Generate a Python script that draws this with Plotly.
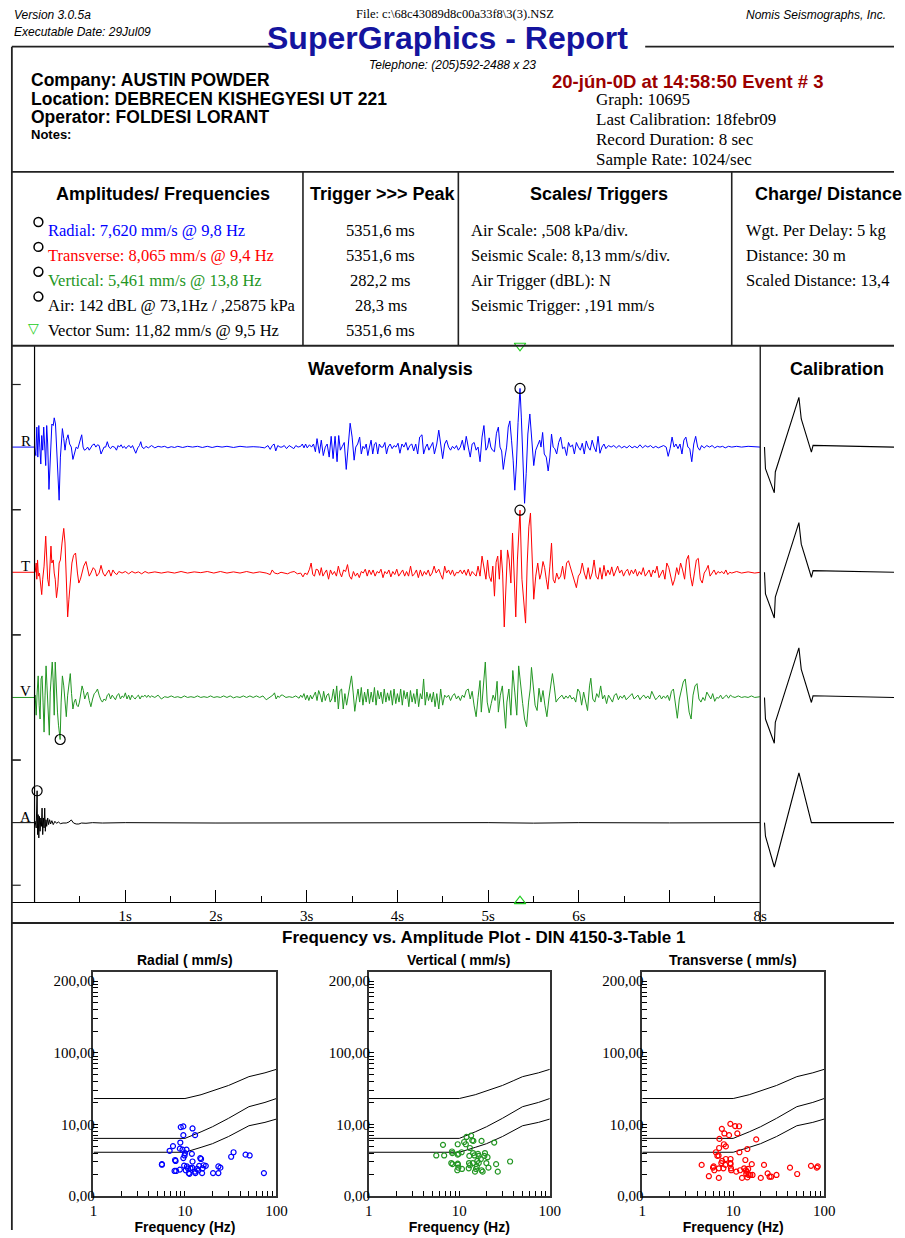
import plotly.graph_objects as go

W, H = 905, 1238
def X(px): return px / W
def Y(py): return 1 - py / H

SANS = "Liberation Sans, Arial, sans-serif"
SERIF = "Liberation Serif, Times New Roman, serif"
BLUE, RED, GREEN, DARKRED, NAVY = "#0000ff", "#ff0000", "#239623", "#9c0000", "#14149e"

# ------------------------------------------------------------------ data
SEISMIC_SCALE = 8.13      # mm/s per division
AIR_SCALE = 0.508         # kPa per division
RECORD_SEC = 8
PRETRIGGER_SEC = 0.25
PEAK_MS = [5351.6, 5351.6, 282.2, 28.3]          # R, T, V, A
PEAK_VAL = [7.620, 8.065, -5.461, 0.25875]        # mm/s, mm/s, mm/s, kPa
VECTOR_PEAK_MS = 5351.6
TIME_TICKS = [1, 2, 3, 4, 5, 6, 7, 8]
TIME_TICK_TEXT = ["1s", "2s", "3s", "4s", "5s", "6s", "", "8s"]

# waveform samples (time s, value) read from the record
R_WAVE = [(-0.25,0),(0.0,0),(0.014,-1.1),(0.025,2.6),(0.036,-1.3),(0.047,2.8),(0.058,0),(0.069,-2.2),(0.079,1.5),(0.090,-0.4),(0.101,2.6),(0.112,0),(0.123,-2.4),(0.134,2.8),(0.145,0.4),(0.159,-5.5),(0.177,0.9),(0.191,3.0),(0.206,2.8),(0.217,3.8),(0.231,3.0),(0.242,0),(0.257,-3.4),(0.271,-6.9),(0.285,-1.3),(0.296,1.3),(0.307,2.4),(0.322,1.1),(0.336,-0.4),(0.350,0.9),(0.369,1.6),(0.387,0.4),(0.405,0),(0.423,-1.6),(0.441,-0.6),(0.459,0),(0.477,-0.2),(0.502,0.9),(0.520,1.6),(0.535,0),(0.549,-0.4),(0.567,-0.3),(0.585,0),(0.603,-0.4),(0.621,0),(0.640,0.3),(0.658,0.4),(0.676,0),(0.694,0.3),(0.712,0.2),(0.733,-0.9),(0.748,-0.4),(0.766,0),(0.784,0),(0.802,0.7),(0.820,0),(0.838,-0.2),(0.856,0.1),(0.882,0),(0.903,-0.4),(0.921,0.2),(0.936,0),(0.954,0.3),(0.972,-0.1),(0.990,0.1),(1.008,-0.2),(1.026,0.1),(1.044,0.2),(1.062,-0.1),(1.080,0.2),(1.098,-0.4),(1.116,-0.8),(1.138,-0.1),(1.156,0.2),(1.171,0.7),(1.185,0),(1.207,-0.2),(1.228,0.1),(1.254,-0.1),(1.290,0.2),(1.326,-0.1),(1.362,0.1),(1.398,0),(1.434,0.1),(1.470,-0.1),(1.507,0.05),(1.543,-0.05),(1.579,0.1),(1.633,-0.05),(1.687,0.1),(1.742,0),(1.796,0.1),(1.850,-0.05),(1.904,0.1),(1.958,-0.05),(2.012,0.1),(2.067,0),(2.121,0.1),(2.193,-0.05),(2.265,0.1),(2.338,0),(2.410,0.05),(2.482,0),(2.536,-0.1),(2.573,0.2),(2.598,-0.3),(2.620,0.2),(2.641,0.4),(2.659,-0.5),(2.681,0.2),(2.706,0),(2.728,0),(2.753,0.2),(2.778,-0.2),(2.807,0.2),(2.833,-0.05),(2.858,-0.2),(2.880,0.2),(2.905,0),(2.934,0.1),(2.952,0.4),(2.970,-0.1),(2.988,0.4),(3.006,-0.1),(3.031,0.3),(3.053,0),(3.075,0.4),(3.096,-0.6),(3.114,1.1),(3.140,-0.8),(3.161,0.9),(3.183,-1.1),(3.205,0),(3.226,0.4),(3.248,-1.3),(3.270,1.4),(3.291,-1.5),(3.313,1.4),(3.335,-1.9),(3.353,1.5),(3.371,-0.4),(3.393,0.1),(3.414,0.6),(3.436,-2.9),(3.458,0.4),(3.479,3.1),(3.501,1.3),(3.523,-1.7),(3.541,0),(3.562,0.4),(3.584,1.3),(3.602,-0.9),(3.620,0.1),(3.638,-0.2),(3.656,0.4),(3.674,-1.1),(3.692,0),(3.710,0.9),(3.728,-0.9),(3.747,0.4),(3.765,0.6),(3.783,-0.9),(3.801,0.4),(3.819,0),(3.841,0),(3.862,0.6),(3.880,-0.9),(3.898,0),(3.920,0.4),(3.942,-0.2),(3.963,0.2),(3.985,0),(4.007,0.5),(4.028,-0.8),(4.050,0.4),(4.072,0),(4.094,0.6),(4.115,-0.4),(4.137,0.2),(4.159,0.4),(4.180,-0.5),(4.202,0.4),(4.224,-0.9),(4.245,1.3),(4.271,1.6),(4.289,-0.9),(4.311,0),(4.329,0.4),(4.347,-0.4),(4.368,0.2),(4.390,0.6),(4.408,-0.9),(4.434,0.4),(4.456,2.2),(4.477,0),(4.499,-1.5),(4.521,0.4),(4.542,0.9),(4.564,0),(4.586,-0.4),(4.607,0.1),(4.629,-0.2),(4.651,0.2),(4.672,-0.4),(4.694,0),(4.716,0.9),(4.737,-0.4),(4.759,1.4),(4.781,0),(4.803,-1.3),(4.824,0.4),(4.846,0.6),(4.868,-0.4),(4.889,0),(4.911,-1.9),(4.933,1.3),(4.954,2.8),(4.976,-0.4),(4.994,0),(5.012,1.2),(5.030,0),(5.048,-0.4),(5.070,-0.6),(5.092,1.8),(5.113,2.6),(5.131,0),(5.149,-0.5),(5.167,-2.9),(5.186,-1.3),(5.204,0),(5.222,2.6),(5.240,3.4),(5.258,0.9),(5.276,-1.7),(5.294,-5.6),(5.312,-2.2),(5.330,3.2),(5.3516,7.62),(5.366,3.9),(5.384,-2.6),(5.402,-7.3),(5.420,-3.4),(5.438,1.7),(5.460,4.3),(5.482,1.3),(5.503,-2.4),(5.525,-0.4),(5.547,0.4),(5.569,0.9),(5.583,0),(5.601,1.9),(5.619,-0.9),(5.641,-1.3),(5.662,-3.1),(5.681,-1.3),(5.699,1.7),(5.717,0),(5.735,-0.2),(5.756,-0.9),(5.778,0.6),(5.800,1.3),(5.821,-0.2),(5.843,0),(5.865,-1.1),(5.886,0.6),(5.908,0),(5.930,0.3),(5.951,-0.9),(5.973,0.6),(5.995,0),(6.017,-0.4),(6.038,0.5),(6.060,-0.9),(6.082,0.8),(6.103,0),(6.125,-0.4),(6.147,0.9),(6.168,0),(6.190,-0.6),(6.212,1.4),(6.233,-0.8),(6.255,0),(6.277,0.4),(6.298,-0.2),(6.327,0.2),(6.356,0),(6.385,0.2),(6.414,-0.1),(6.443,0.2),(6.472,-0.1),(6.501,0.1),(6.530,-0.1),(6.558,0.2),(6.587,-0.1),(6.616,0.1),(6.645,-0.1),(6.674,0.3),(6.703,-0.1),(6.732,0.2),(6.761,0),(6.790,0.2),(6.819,-0.1),(6.848,0.1),(6.876,-0.1),(6.905,0),(6.934,0.2),(6.963,0),(6.985,-1.2),(7.006,-0.2),(7.028,1.3),(7.050,0),(7.071,0.4),(7.093,-0.2),(7.115,0.4),(7.137,-0.9),(7.158,0.9),(7.180,1.3),(7.202,0),(7.223,-0.2),(7.245,-1.9),(7.267,0.4),(7.288,1.4),(7.310,0),(7.332,-0.4),(7.353,0.2),(7.382,-0.1),(7.411,0.2),(7.440,0),(7.469,0.2),(7.498,-0.1),(7.527,0.1),(7.556,0),(7.585,0.1),(7.614,-0.1),(7.650,0.1),(7.686,0),(7.740,0.1),(7.794,0),(7.866,0.1),(7.939,0),(8.0,0)]

T_WAVE = [(-0.25,0),(0.0,0),(0.007,0),(0.018,1.2),(0.025,-0.9),(0.033,1.6),(0.043,-0.5),(0.054,-0.1),(0.069,-1.4),(0.079,-2.9),(0.090,-0.9),(0.105,0.8),(0.123,4.7),(0.134,1.6),(0.145,-0.9),(0.159,-1.8),(0.170,1.6),(0.181,3.4),(0.191,1.2),(0.206,1.6),(0.217,-0.1),(0.228,-0.9),(0.242,-3.3),(0.257,-1.8),(0.271,1.2),(0.285,1.6),(0.303,3.8),(0.322,5.7),(0.336,3.8),(0.350,-0.9),(0.365,-5.8),(0.379,-3.5),(0.397,-0.9),(0.412,1.2),(0.430,2.2),(0.452,2.5),(0.473,-0.1),(0.488,-1.4),(0.506,-0.9),(0.524,-0.1),(0.542,0.8),(0.567,1.4),(0.585,0.3),(0.603,-0.5),(0.621,-0.1),(0.647,0.6),(0.668,0.3),(0.686,-0.5),(0.712,-0.1),(0.733,0.9),(0.755,-0.1),(0.777,-0.5),(0.798,-0.1),(0.820,0.3),(0.842,-0.5),(0.864,0.3),(0.885,-0.1),(0.907,-0.3),(0.929,0.1),(0.965,-0.1),(1.001,0.1),(1.037,-0.2),(1.073,0.1),(1.109,-0.1),(1.145,0.05),(1.181,-0.2),(1.218,0.1),(1.254,-0.1),(1.326,0.05),(1.398,-0.1),(1.470,0.05),(1.543,-0.1),(1.615,0.1),(1.687,-0.1),(1.760,0.05),(1.832,-0.05),(1.904,0.1),(1.976,-0.1),(2.049,0.1),(2.121,-0.1),(2.193,0.05),(2.265,-0.1),(2.338,0.1),(2.410,-0.1),(2.482,0.05),(2.554,-0.1),(2.598,-0.3),(2.620,0.3),(2.645,-0.1),(2.681,-0.2),(2.717,0),(2.753,-0.1),(2.789,-0.2),(2.825,0),(2.862,0.1),(2.898,-0.2),(2.934,-0.1),(2.959,-0.6),(2.981,-0.1),(3.006,-0.3),(3.031,0.4),(3.049,1.2),(3.067,-0.3),(3.086,-0.5),(3.104,0.4),(3.125,0.3),(3.143,-0.4),(3.161,0.6),(3.179,-0.5),(3.197,-0.1),(3.219,0.3),(3.241,-0.9),(3.262,0.3),(3.284,-0.3),(3.306,0.1),(3.328,-0.5),(3.349,0.8),(3.367,-0.1),(3.385,-0.6),(3.407,0.3),(3.429,0.1),(3.450,1.0),(3.472,-0.5),(3.494,-0.9),(3.515,0.1),(3.537,-0.5),(3.559,-0.1),(3.580,-0.7),(3.602,0.1),(3.624,-0.1),(3.646,0.4),(3.667,-0.5),(3.689,0.3),(3.711,-0.3),(3.732,0.3),(3.754,-0.5),(3.776,0.1),(3.798,-0.1),(3.819,0.4),(3.841,-0.7),(3.862,0.1),(3.884,-0.2),(3.906,0.3),(3.928,-0.6),(3.949,0.1),(3.971,-0.3),(3.993,0.4),(4.014,-0.5),(4.036,-0.1),(4.058,0.3),(4.080,-0.5),(4.101,0.1),(4.123,-0.5),(4.145,0.8),(4.166,-0.5),(4.188,-0.2),(4.210,0.3),(4.231,-0.7),(4.253,0.3),(4.275,-0.5),(4.297,0.1),(4.318,-0.3),(4.340,0.3),(4.361,-0.5),(4.383,-0.1),(4.405,0.8),(4.427,-0.1),(4.456,0.4),(4.477,-0.3),(4.499,-0.9),(4.521,0.8),(4.542,-0.1),(4.564,0.3),(4.586,-0.3),(4.607,0.3),(4.629,-0.5),(4.651,0),(4.672,-0.1),(4.694,0.3),(4.716,-0.2),(4.737,0.3),(4.759,-0.4),(4.781,0.4),(4.803,-0.5),(4.824,0.1),(4.846,-0.2),(4.868,-0.5),(4.889,0.8),(4.911,-0.5),(4.933,2.1),(4.954,0.8),(4.976,-0.9),(4.994,1.6),(5.012,-0.5),(5.034,-1.2),(5.052,0.8),(5.070,-3.1),(5.088,1.3),(5.106,2.1),(5.124,-0.9),(5.142,2.9),(5.160,-0.1),(5.178,-7.1),(5.196,-0.9),(5.214,2.9),(5.232,1.6),(5.251,-1.4),(5.269,5.1),(5.287,-0.9),(5.305,-5.8),(5.323,1.6),(5.3516,8.065),(5.373,-0.9),(5.395,-4.0),(5.413,-6.6),(5.431,1.2),(5.449,5.9),(5.467,7.7),(5.485,2.5),(5.503,-3.5),(5.525,-0.5),(5.547,1.2),(5.569,-0.9),(5.587,-0.1),(5.605,1.4),(5.623,0.6),(5.641,-0.9),(5.659,-2.2),(5.681,0.8),(5.699,3.8),(5.717,-0.9),(5.735,-1.4),(5.756,-0.1),(5.778,-0.9),(5.800,-0.5),(5.821,0.8),(5.843,-0.9),(5.865,1.2),(5.886,1.5),(5.908,0.6),(5.930,-0.1),(5.951,-0.9),(5.973,-2.0),(5.995,-0.5),(6.017,-0.1),(6.038,1.2),(6.060,-0.1),(6.082,-0.9),(6.103,0.6),(6.125,-0.9),(6.147,-0.1),(6.168,1.6),(6.190,-0.5),(6.212,-0.9),(6.233,0.6),(6.255,-0.9),(6.277,0.9),(6.298,-0.5),(6.320,0.3),(6.342,-0.3),(6.363,0.7),(6.385,-0.5),(6.407,0.1),(6.428,0.8),(6.450,-0.1),(6.472,0.3),(6.493,-0.5),(6.515,0.1),(6.537,0.4),(6.558,-0.4),(6.580,0.3),(6.602,-0.2),(6.624,0.4),(6.645,-0.5),(6.667,0.1),(6.689,-0.3),(6.710,0.6),(6.732,-0.5),(6.754,-0.1),(6.775,0.3),(6.797,-0.6),(6.819,0.3),(6.840,-0.1),(6.862,0.8),(6.884,-0.7),(6.905,-0.1),(6.927,0.3),(6.949,-0.9),(6.970,1.2),(6.992,0.6),(7.014,-0.7),(7.035,-1.7),(7.057,-0.9),(7.079,0.6),(7.100,-0.3),(7.122,1.2),(7.144,0.3),(7.166,-0.9),(7.187,1.6),(7.209,2.2),(7.231,-0.5),(7.252,-1.8),(7.274,-0.1),(7.296,1.6),(7.317,1.8),(7.339,-0.9),(7.361,-1.4),(7.382,-0.1),(7.404,0.3),(7.426,0.9),(7.447,-0.5),(7.469,0),(7.491,0.3),(7.512,-0.3),(7.534,0.1),(7.556,-0.1),(7.577,0.1),(7.599,-0.2),(7.621,0.3),(7.642,-0.3),(7.664,0),(7.686,-0.1),(7.740,0.1),(7.794,-0.1),(7.866,0.05),(7.939,-0.1),(8.0,0)]

V_WAVE = [(-0.25,0),(0.0,0),(0.007,0.3),(0.018,-2.3),(0.029,0.7),(0.040,2.8),(0.051,-1.0),(0.061,-2.8),(0.072,2.4),(0.083,2.8),(0.094,-0.6),(0.105,-4.5),(0.116,0.3),(0.127,4.1),(0.137,1.5),(0.152,-1.9),(0.163,-4.9),(0.173,0.7),(0.184,3.7),(0.195,4.6),(0.206,2.0),(0.217,-2.3),(0.228,4.6),(0.238,1.5),(0.253,-1.9),(0.264,-3.6),(0.2822,-5.461),(0.293,-0.6),(0.307,2.8),(0.322,1.5),(0.336,-1.0),(0.350,-2.5),(0.365,0.3),(0.379,2.0),(0.394,3.1),(0.408,0.5),(0.423,-1.5),(0.437,-0.6),(0.452,-0.2),(0.466,-1.0),(0.481,-1.2),(0.495,-0.6),(0.509,0.5),(0.524,1.5),(0.538,0.9),(0.553,-0.2),(0.567,0.3),(0.585,0.7),(0.603,-0.4),(0.621,-1.2),(0.640,-0.2),(0.658,0.5),(0.676,0.7),(0.694,1.1),(0.712,0.3),(0.730,-0.3),(0.748,-0.6),(0.766,-0.2),(0.784,-0.4),(0.802,0.3),(0.820,0.5),(0.838,-0.2),(0.856,0.3),(0.874,0),(0.892,-0.3),(0.911,0.3),(0.929,0.5),(0.947,-0.2),(0.965,0.2),(0.983,0),(1.001,0.6),(1.019,-0.2),(1.037,0.3),(1.055,-0.3),(1.073,0.3),(1.091,0),(1.109,-0.2),(1.127,0.1),(1.145,0.3),(1.163,-0.2),(1.181,0.2),(1.200,0.1),(1.218,0.3),(1.236,0),(1.254,0.3),(1.272,0),(1.290,0.2),(1.326,0),(1.362,0.3),(1.398,-0.2),(1.434,0.1),(1.470,0),(1.507,0.2),(1.543,0),(1.579,0.1),(1.615,-0.05),(1.651,0.2),(1.687,0),(1.724,0.1),(1.760,0),(1.796,0.2),(1.832,0),(1.868,0.1),(1.904,0),(1.940,0.2),(1.976,0),(2.012,0.1),(2.049,0),(2.085,0.2),(2.121,0),(2.157,0.2),(2.193,-0.05),(2.229,0.1),(2.265,0),(2.302,0.2),(2.338,0),(2.374,0.2),(2.410,0),(2.446,0.2),(2.482,0),(2.518,0.2),(2.554,-0.3),(2.590,0),(2.627,0.3),(2.645,0.6),(2.663,-0.2),(2.681,0.2),(2.699,0),(2.717,0.3),(2.735,0.3),(2.771,0),(2.807,0.1),(2.843,0),(2.879,0.2),(2.916,-0.1),(2.934,0.3),(2.952,0),(2.970,0.5),(2.988,-0.3),(3.006,0.3),(3.024,-0.4),(3.042,0.3),(3.060,-0.2),(3.078,0.2),(3.096,0.7),(3.114,-0.4),(3.132,0.9),(3.150,0.3),(3.169,-0.6),(3.187,0.8),(3.205,-0.4),(3.223,0.3),(3.241,0.5),(3.259,-0.6),(3.277,-0.2),(3.295,1.1),(3.313,-0.6),(3.331,1.5),(3.349,-1.5),(3.367,0.9),(3.385,1.1),(3.403,-1.5),(3.421,0.5),(3.440,-1.0),(3.458,0.3),(3.476,2.0),(3.494,2.8),(3.512,0.7),(3.530,-1.8),(3.548,-0.2),(3.566,1.1),(3.584,-0.6),(3.602,1.3),(3.620,-1.0),(3.638,0.7),(3.656,-0.6),(3.674,1.1),(3.692,-0.8),(3.711,0.7),(3.729,-0.6),(3.747,1.3),(3.765,-1.0),(3.783,0.9),(3.801,-0.2),(3.819,0.7),(3.837,-0.8),(3.855,1.1),(3.873,-0.6),(3.891,0.6),(3.909,-0.4),(3.927,0.9),(3.945,-1.0),(3.963,1.1),(3.982,-0.8),(4.000,0.5),(4.018,-0.6),(4.036,1.1),(4.054,-1.0),(4.072,0.9),(4.090,-0.2),(4.108,0.7),(4.126,-1.2),(4.144,0.9),(4.162,-0.6),(4.180,0.5),(4.198,-0.8),(4.216,1.1),(4.234,-1.2),(4.253,0.5),(4.271,-0.2),(4.289,2.4),(4.307,-1.0),(4.325,0.7),(4.343,-0.4),(4.361,0.5),(4.379,-0.6),(4.397,0.7),(4.415,-1.2),(4.434,0.5),(4.456,-1.5),(4.477,1.1),(4.499,-1.0),(4.521,0.3),(4.542,0),(4.564,0.3),(4.586,-0.4),(4.607,0.2),(4.629,0.5),(4.651,-0.2),(4.672,0.2),(4.694,-0.4),(4.716,0.3),(4.737,0),(4.759,0.9),(4.781,1.1),(4.803,-0.2),(4.824,0.8),(4.846,-1.1),(4.868,-2.5),(4.889,0),(4.911,2.2),(4.925,-1.9),(4.947,1.1),(4.969,4.6),(4.990,-0.6),(5.012,-2.0),(5.034,-0.8),(5.055,0.3),(5.077,-0.4),(5.099,2.1),(5.113,-1.9),(5.135,0.3),(5.157,1.5),(5.178,-1.5),(5.193,-4.0),(5.207,-0.6),(5.229,1.1),(5.251,-2.3),(5.272,3.5),(5.294,0.7),(5.316,-2.3),(5.337,4.1),(5.359,1.1),(5.381,-0.8),(5.402,-2.8),(5.424,-3.8),(5.446,-0.6),(5.464,1.1),(5.478,3.9),(5.496,1.5),(5.518,-1.0),(5.540,-1.7),(5.561,1.2),(5.583,-0.6),(5.605,0.9),(5.626,-1.0),(5.648,-2.5),(5.670,-0.2),(5.691,1.5),(5.709,3.1),(5.728,1.5),(5.749,-0.6),(5.771,-0.2),(5.793,0),(5.814,0.3),(5.836,-0.2),(5.858,0.2),(5.879,-0.1),(5.901,0.3),(5.923,-0.2),(5.944,0),(5.966,-0.6),(5.988,1.1),(6.009,0.7),(6.031,-1.0),(6.053,0.7),(6.074,-0.6),(6.096,-1.7),(6.118,1.5),(6.132,2.5),(6.154,-0.2),(6.176,-0.6),(6.197,0.5),(6.219,0),(6.241,1.5),(6.262,-0.2),(6.284,0.3),(6.306,-0.8),(6.327,0.3),(6.349,-0.2),(6.371,-0.6),(6.392,0.3),(6.414,0.5),(6.436,-0.3),(6.457,0.2),(6.479,-0.1),(6.501,0.3),(6.522,-0.3),(6.544,0),(6.566,0.3),(6.587,0.5),(6.609,-0.2),(6.631,0.1),(6.652,0.3),(6.674,-0.3),(6.696,0.1),(6.717,0.3),(6.739,-0.1),(6.761,0.2),(6.782,-0.2),(6.804,0.8),(6.826,0.3),(6.847,-0.3),(6.869,0),(6.891,0.3),(6.912,-0.2),(6.934,0.2),(6.956,-0.1),(6.978,0.3),(6.999,-0.4),(7.021,0.8),(7.043,1.1),(7.064,-1.0),(7.086,-2.7),(7.108,-0.2),(7.129,0.7),(7.151,2.0),(7.173,2.4),(7.194,0),(7.216,-1.9),(7.238,-2.8),(7.259,0.3),(7.281,1.5),(7.303,1.8),(7.324,-0.2),(7.346,-0.6),(7.368,0),(7.389,-0.4),(7.411,0.7),(7.433,0.3),(7.455,-0.2),(7.476,0.5),(7.498,-0.5),(7.520,0),(7.541,-0.1),(7.563,0.3),(7.585,-0.2),(7.606,0.1),(7.628,0.3),(7.650,-0.1),(7.671,0.3),(7.693,0.1),(7.722,0),(7.758,0.2),(7.794,0),(7.830,0.1),(7.866,0),(7.903,0.2),(7.939,0),(8.0,0.1)]

A_WAVE = [(-0.25,0),(0.0,0),(0.007,0.011),(0.018,-0.043),(0.0283,0.25875),(0.033,-0.097),(0.040,0.065),(0.047,-0.124),(0.054,0.051),(0.061,-0.070),(0.069,0.038),(0.076,-0.030),(0.083,0.118),(0.090,-0.097),(0.098,0.038),(0.105,-0.043),(0.112,0.118),(0.119,-0.070),(0.126,0.024),(0.134,-0.030),(0.145,0.038),(0.155,-0.016),(0.166,0.024),(0.177,-0.011),(0.191,0.016),(0.206,-0.016),(0.224,0.011),(0.242,-0.005),(0.264,0.005),(0.285,-0.008),(0.314,-0.003),(0.350,-0.003),(0.379,0.005),(0.405,0.022),(0.430,-0.003),(0.459,-0.011),(0.488,-0.011),(0.517,-0.003),(0.567,-0.005),(0.640,0),(0.748,-0.003),(1.0,0),(2.0,-0.003),(3.0,0),(4.0,-0.003),(5.0,0),(5.5,-0.004),(6.0,0),(7.0,-0.002),(8.0,0)]

# calibration pulses (ms, value)
CAL_SEISMIC = [(4.3,0),(5.3,-2.80),(14.3,-5.94),(15.3,-3.23),(39.3,6.45),(41.7,3.65),(52.0,-0.65),(53.7,0.22),(136,0)]
CAL_AIR = [(4.3,0),(5.3,-0.110),(14.3,-0.360),(39.3,0.403),(52.0,0),(136,0)]

# frequency vs amplitude (Hz, mm/s)
RADIAL_FA = [(5.6,2.8),(5.6,2.75),(6.8,4.3),(7.4,5.0),(7.8,3.2),(7.9,3.1),(7.7,2.25),(8.0,2.25),(8.8,4.6),(9.0,9.2),(8.9,5.6),(8.8,2.35),(9.4,4.45),(9.6,9.4),(9.6,7.1),(9.6,3.4),(9.8,2.67),(9.9,3.7),(10.0,4.0),(10.4,4.45),(10.2,2.3),(10.8,2.45),(11.0,2.1),(11.2,2.05),(11.5,2.45),(11.9,3.9),(12.1,8.8),(12.1,3.05),(12.0,2.5),(12.9,7.1),(12.9,2.2),(13.6,2.4),(14.3,2.65),(14.7,3.4),(15.0,3.3),(15.4,2.1),(15.6,2.45),(16.0,2.7),(16.9,2.65),(20.3,2.1),(23.2,2.1),(23.2,2.6),(24.4,2.5),(32.0,3.55),(34.0,4.1),(46.0,3.8),(51.0,3.7),(73.0,2.1),(13.0,2.1),(14.0,2.3),(10.5,2.6)]
VERTICAL_FA = [(5.56,3.7),(6.8,3.7),(6.6,5.2),(8.15,2.9),(8.4,2.8),(8.3,4.2),(8.35,4.0),(9.6,5.3),(9.6,2.85),(9.65,2.75),(9.6,3.8),(9.8,3.9),(9.75,2.5),(9.5,2.3),(10.6,4.1),(10.7,2.4),(11.3,5.7),(11.8,5.3),(12.0,6.7),(12.7,2.45),(12.8,2.9),(12.9,3.65),(13.1,4.7),(13.1,2.7),(13.5,7.0),(13.9,6.0),(14.1,2.9),(14.3,5.9),(14.2,4.0),(14.7,3.7),(14.9,2.2),(15.3,2.4),(15.6,2.6),(15.8,3.1),(16.1,3.9),(16.4,3.65),(16.4,2.9),(17.3,3.3),(17.6,2.3),(17.6,5.9),(18.1,2.2),(18.9,3.65),(19.2,4.0),(19.9,2.9),(20.5,3.5),(21.0,2.5),(24.3,5.6),(25.5,2.8),(26.6,2.2),(36.4,3.05)]
TRANSVERSE_FA = [(4.5,2.73),(5.4,1.9),(6.0,2.5),(6.1,2.6),(6.2,2.3),(6.45,4.1),(6.7,3.65),(6.9,3.7),(6.95,2.45),(6.95,1.8),(7.0,4.7),(7.05,6.3),(7.5,8.7),(7.4,2.9),(7.55,3.1),(7.8,2.45),(7.9,5.3),(8.0,7.5),(8.3,4.95),(8.3,3.3),(8.2,2.73),(9.0,7.1),(9.3,2.9),(9.3,10.2),(9.35,3.3),(9.35,2.8),(9.5,2.3),(9.45,2.45),(10.5,9.5),(10.8,2.2),(11.1,7.5),(11.6,9.45),(11.7,4.1),(11.9,2.3),(12.5,1.8),(13.2,2.45),(13.6,3.2),(13.8,2.3),(13.9,2.05),(14.1,2.2),(14.3,4.55),(14.3,1.83),(14.6,2.4),(14.8,1.98),(15.4,1.98),(16.0,2.8),(16.3,1.98),(17.9,6.2),(20.1,1.8),(21.8,2.73),(23.9,2.08),(25.1,1.87),(26.2,1.87),(29.9,1.98),(42.1,2.5),(50.5,2.04),(71.6,2.65),(83.0,2.5),(85.0,2.6)]

DIN_FREQ = [1, 10, 15, 20, 30, 40, 50, 75, 100]
DIN_LINES = [
    [23.0, 23.0, 26.0, 29.5, 35.0, 41.0, 46.4, 52.5, 58.7],
    [6.4, 6.4, 7.9, 9.3, 12.2, 15.0, 17.7, 20.3, 23.0],
    [4.1, 4.1, 4.8, 5.4, 6.8, 8.2, 9.6, 10.7, 11.9],
]
FA_Y_TICKS = [1,2,3,4,5,6,7,8,9,10,20,30,40,50,60,70,80,90,100,200,300,400,500,600,700,800,900,1000]
FA_Y_LABELS = {1: "0,00", 10: "10,00", 100: "100,00", 1000: "200,00"}
FA_X_TICKS = [1,2,3,4,5,6,7,8,9,10,20,30,40,50,60,70,80,90,100]
FA_X_LABELS = {1: "1", 10: "10", 100: "100"}

AMP_ROWS = ["Radial: 7,620 mm/s @ 9,8 Hz", "Transverse: 8,065 mm/s @ 9,4 Hz",
            "Vertical: 5,461 mm/s @ 13,8 Hz", "Air: 142 dBL @ 73,1Hz / ,25875 kPa",
            "Vector Sum: 11,82 mm/s @ 9,5 Hz"]
AMP_COLORS = [BLUE, RED, GREEN, "black", "black"]
PEAK_ROWS = ["5351,6 ms", "5351,6 ms", "282,2 ms", "28,3 ms", "5351,6 ms"]
SCALE_ROWS = ["Air Scale: ,508 kPa/div.", "Seismic Scale: 8,13 mm/s/div.",
              "Air Trigger (dBL): N", "Seismic Trigger: ,191 mm/s"]
CHARGE_ROWS = ["Wgt. Per Delay: 5 kg", "Distance: 30 m", "Scaled Distance: 13,4"]
INFO_ROWS = ["Graph: 10695", "Last Calibration: 18febr09", "Record Duration: 8 sec", "Sample Rate: 1024/sec"]

# ------------------------------------------------------------------ layout constants
DIV_PX = 63
CHANNELS = [  # name, wave, color, baseline px, scale
    ("R", R_WAVE, BLUE, 450, SEISMIC_SCALE),
    ("T", T_WAVE, RED, 576, SEISMIC_SCALE),
    ("V", V_WAVE, GREEN, 702, SEISMIC_SCALE),
    ("A", A_WAVE, "black", 828, AIR_SCALE),
]
WAVE_LEFT, WAVE_RIGHT, WAVE_TOP, WAVE_AXIS, WAVE_BOTTOM = 8, 769, 348, 908, 929

fig = go.Figure()
layout = dict(
    width=W, height=H, margin=dict(l=0, r=0, t=0, b=0),
    paper_bgcolor="white", plot_bgcolor="rgba(0,0,0,0)", showlegend=False,
    font=dict(family=SERIF, color="black"),
)
layout["xaxis"] = dict(
    domain=[X(WAVE_LEFT), X(WAVE_RIGHT)], range=[-PRETRIGGER_SEC, RECORD_SEC],
    anchor="free", position=Y(WAVE_AXIS), showgrid=False, zeroline=False,
    showline=True, linecolor="black", linewidth=1,
    tickmode="array", tickvals=TIME_TICKS, ticktext=TIME_TICK_TEXT,
    ticks="inside", ticklen=12, tickcolor="black", tickwidth=1,
    tickfont=dict(family=SERIF, size=15),
    minor=dict(dtick=0.5, tick0=0, ticks="inside", ticklen=6, tickcolor="black", showgrid=False),
)
layout["xaxis2"] = dict(domain=[X(WAVE_RIGHT), 1], range=[0, 136], visible=False)

shapes, annotations = [], []
def hl(x0, x1, y, w=1.6, c="#222"):
    shapes.append(dict(type="line", xref="paper", yref="paper", x0=X(x0), x1=X(x1), y0=Y(y), y1=Y(y), line=dict(color=c, width=w)))
def vl(x, y0, y1, w=1.6, c="#222"):
    shapes.append(dict(type="line", xref="paper", yref="paper", x0=X(x), x1=X(x), y0=Y(y0), y1=Y(y1), line=dict(color=c, width=w)))
def txt(s, x, y, size, family=SANS, color="black", xanchor="left", yanchor="middle"):
    annotations.append(dict(text=s, x=X(x), y=Y(y), xref="paper", yref="paper", showarrow=False,
                            xanchor=xanchor, yanchor=yanchor, font=dict(family=family, size=size, color=color)))

for i, (name, wave, color, base, scale) in enumerate(CHANNELS):
    yname = "y" if i == 0 else f"y{i+1}"
    lname = "yaxis" if i == 0 else f"yaxis{i+1}"
    span = 1.5 * DIV_PX
    layout[lname] = dict(domain=[Y(base + span), Y(base - span)], range=[-1.5 * scale, 1.5 * scale],
                         visible=False, fixedrange=True)
    ts = [p[0] for p in wave]
    vs = [p[1] for p in wave]
    fig.add_trace(go.Scatter(x=ts, y=vs, mode="lines", line=dict(color=color, width=1), xaxis="x", yaxis=yname))
    cal = CAL_AIR if name == "A" else CAL_SEISMIC
    fig.add_trace(go.Scatter(x=[p[0] for p in cal], y=[p[1] for p in cal], mode="lines",
                             line=dict(color="black", width=1.1), xaxis="x2", yaxis=yname))
    fig.add_trace(go.Scatter(x=[PEAK_MS[i] / 1000], y=[PEAK_VAL[i]], mode="markers", cliponaxis=False,
                             marker=dict(symbol="circle-open", size=10, color="black", line=dict(width=1.2)),
                             xaxis="x", yaxis=yname))
    annotations.append(dict(text=name, x=X(22), y=0, xref="paper", yref=yname, showarrow=False,
                            xanchor="center", yanchor="bottom", yshift=-4,
                            font=dict(family=SERIF, size=15, color="black")))
    # channel division ticks on the left border
    for d in (-DIV_PX, DIV_PX):
        hl(WAVE_LEFT, WAVE_LEFT + 9, base + d, w=1.2)

# vector-sum peak markers
layout["yaxis5"] = dict(domain=[Y(907), Y(348)], range=[0, 1], visible=False, fixedrange=True)
fig.add_trace(go.Scatter(x=[VECTOR_PEAK_MS / 1000, VECTOR_PEAK_MS / 1000], y=[1, 0], mode="markers",
                         cliponaxis=False, xaxis="x", yaxis="y5",
                         marker=dict(symbol=["triangle-down-open", "triangle-up-open"], size=10,
                                     color="#22cc22", line=dict(width=1.2))))

# trigger line at t = 0
shapes.append(dict(type="line", xref="x", yref="paper", x0=0, x1=0, y0=Y(WAVE_AXIS), y1=Y(WAVE_TOP),
                   line=dict(color="black", width=1.2)))

# ---------------- frequency / amplitude panels
PANELS = [("Radial ( mm/s)", RADIAL_FA, BLUE, 91, 277),
          ("Vertical ( mm/s)", VERTICAL_FA, GREEN, 371, 555),
          ("Transverse ( mm/s)", TRANSVERSE_FA, RED, 649, 834)]
FA_TOP, FA_BOTTOM = 978, 1204
for k, (title, pts, color, x0, x1) in enumerate(PANELS):
    xa, ya = f"x{k+3}", f"y{k+6}"
    layout[f"xaxis{k+3}"] = dict(
        domain=[X(x0), X(x1)], type="log", range=[0, 2], anchor=ya,
        tickmode="array", tickvals=FA_X_TICKS, ticktext=[FA_X_LABELS.get(v, "") for v in FA_X_TICKS],
        ticks="inside", ticklen=5, tickcolor="black", showgrid=False, zeroline=False,
        showline=True, mirror=True, linecolor="#333", linewidth=1.5,
        tickfont=dict(family=SERIF, size=15),
        title=dict(text="<b>Frequency (Hz)</b>", font=dict(family=SANS, size=14), standoff=2),
    )
    layout[f"yaxis{k+6}"] = dict(
        domain=[Y(FA_BOTTOM), Y(FA_TOP)], type="log", range=[0, 3.13], anchor=xa,
        tickmode="array", tickvals=FA_Y_TICKS, ticktext=[FA_Y_LABELS.get(v, "") for v in FA_Y_TICKS],
        ticks="inside", ticklen=5, tickcolor="black", showgrid=False, zeroline=False,
        showline=True, mirror=True, linecolor="#333", linewidth=1.5,
        tickfont=dict(family=SERIF, size=15), ticklabelstandoff=-6,
    )
    for line in DIN_LINES:
        fig.add_trace(go.Scatter(x=DIN_FREQ, y=line, mode="lines", line=dict(color="black", width=1),
                                 xaxis=xa, yaxis=ya))
    fig.add_trace(go.Scatter(x=[p[0] for p in pts], y=[p[1] for p in pts], mode="markers",
                             marker=dict(symbol="circle-open", size=5, color=color, line=dict(width=1.2)),
                             xaxis=xa, yaxis=ya))
    txt(f"<b>{title}</b>", (x0 + x1) / 2, 966, 14, xanchor="center")

# ---------------- frame lines
hl(WAVE_LEFT, 272, 47, w=1.8)
hl(652, W, 47, w=1.8)
vl(WAVE_LEFT, 47, H, w=1.8)
hl(WAVE_LEFT, W, 173, w=1.8)
hl(WAVE_LEFT, W, WAVE_TOP, w=1.8)
hl(WAVE_LEFT, W, WAVE_BOTTOM, w=1.8)
for xc in (304, 462, 740):
    vl(xc, 173, WAVE_TOP, w=1.6)
vl(WAVE_RIGHT, WAVE_TOP, WAVE_BOTTOM, w=1.4)

# ---------------- header texts
txt("<i>Version 3.0.5a</i>", 8, 15, 12)
txt("<i>Executable Date: 29Jul09</i>", 8, 32, 12)
txt("File: c:\\68c43089d8c00a33f8\\3(3).NSZ", 459, 14, 12.5, family=SERIF, xanchor="center")
txt("<i>Nomis Seismographs, Inc.</i>", 899, 15, 12, xanchor="right")
txt("<b>SuperGraphics - Report</b>", 451, 38, 32, color=NAVY, xanchor="center")
txt("<i>Telephone: (205)592-2488 x 23</i>", 456, 65, 12, xanchor="center")
txt("<b>Company: AUSTIN POWDER</b>", 25, 81, 17.5)
txt("<b>Location: DEBRECEN KISHEGYESI UT 221</b>", 25, 100, 17.5)
txt("<b>Operator: FOLDESI LORANT</b>", 25, 118, 17.5)
txt("<b>Notes:</b>", 25, 135, 13)
txt("<b>20-jún-0D at 14:58:50 Event # 3</b>", 555, 82, 18.5, color=DARKRED)
for j, s in enumerate(INFO_ROWS):
    txt(s, 600, 100 + j * 20.3, 17, family=SERIF)

# ---------------- summary table
TABLE_FONT = 16.5
txt("<b>Amplitudes/ Frequencies</b>", 162, 195, 18, xanchor="center")
txt("<b>Trigger >>> Peak</b>", 385, 195, 18, xanchor="center")
txt("<b>Scales/ Triggers</b>", 605, 195, 18, xanchor="center")
txt("<b>Charge/ Distance</b>", 762, 195, 18)
ROW_Y = [232, 257, 282, 307, 333]
for j, s in enumerate(AMP_ROWS):
    txt(s, 43, ROW_Y[j], TABLE_FONT, family=SERIF, color=AMP_COLORS[j])
    txt(PEAK_ROWS[j], 383, ROW_Y[j], TABLE_FONT, family=SERIF, xanchor="center")
    if j < 4:
        shapes.append(dict(type="circle", xref="paper", yref="paper", x0=X(30.5), x1=X(39.5),
                           y0=Y(ROW_Y[j] - 4), y1=Y(ROW_Y[j] - 13), line=dict(color="black", width=1.5)))
txt("\u25BD", 30, ROW_Y[4] - 3, 14, family="DejaVu Sans", color="#22cc22", xanchor="center")
for j, s in enumerate(SCALE_ROWS):
    txt(s, 473, ROW_Y[j], TABLE_FONT, family=SERIF)
for j, s in enumerate(CHARGE_ROWS):
    txt(s, 752, ROW_Y[j], TABLE_FONT, family=SERIF)

# ---------------- section titles
txt("<b>Waveform Analysis</b>", 393, 371, 18, xanchor="center")
txt("<b>Calibration</b>", 847, 371, 18, xanchor="center")
txt("<b>Frequency vs. Amplitude Plot - DIN 4150-3-Table 1</b>", 488, 944, 17, xanchor="center")

layout["shapes"] = shapes
layout["annotations"] = annotations
fig.update_layout(**layout)
fig.write_html("out.html", config={"displayModeBar": False},
               post_script="document.body.style.margin='0px';document.body.style.overflow='hidden';")
